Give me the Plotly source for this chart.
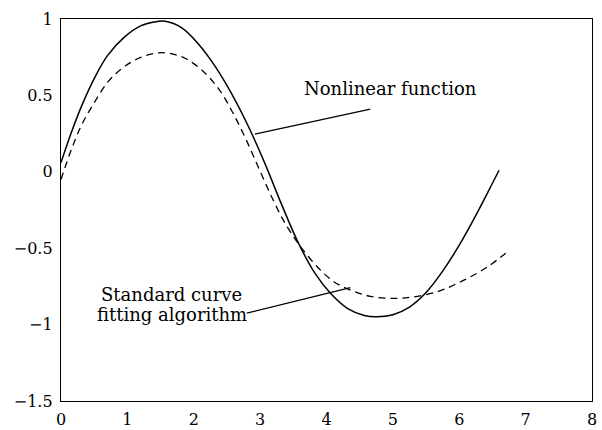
import plotly.graph_objects as go

# Nonlinear function (solid)
x_nonlinear = [0.0, 0.15, 0.3, 0.5, 0.7, 0.95, 1.2, 1.4, 1.57, 1.82, 2.07, 2.32, 2.57, 2.82, 3.07,
               3.32, 3.57, 3.82, 4.07, 4.32, 4.57, 4.75, 5.0, 5.25, 5.5, 5.75, 6.0, 6.25, 6.5, 6.6]
y_nonlinear = [0.06, 0.25, 0.42, 0.61, 0.76, 0.88, 0.955, 0.98, 0.985, 0.942, 0.837, 0.692, 0.512,
               0.30, 0.057, -0.21, -0.46, -0.66, -0.80, -0.895, -0.94, -0.948, -0.935, -0.885,
               -0.79, -0.65, -0.48, -0.285, -0.075, 0.01]

# Standard curve fitting algorithm (dashed)
x_fit = [0.0, 0.16, 0.31, 0.51, 0.71, 0.92, 1.17, 1.42, 1.62, 1.87, 2.12, 2.37, 2.58, 2.78, 2.98,
         3.18, 3.38, 3.61, 3.86, 4.11, 4.36, 4.66, 4.97, 5.27, 5.67, 5.92, 6.17, 6.43, 6.70]
y_fit = [-0.05, 0.15, 0.306, 0.459, 0.59, 0.677, 0.743, 0.776, 0.776, 0.743, 0.666, 0.546,
         0.393, 0.219, 0.023, -0.17, -0.34, -0.49, -0.621, -0.719, -0.774, -0.815, -0.828,
         -0.821, -0.785, -0.741, -0.687, -0.621, -0.533]

x_ticks = [0, 1, 2, 3, 4, 5, 6, 7, 8]
y_ticks = [-1.5, -1, -0.5, 0, 0.5, 1]
y_tick_labels = ["\u22121.5", "\u22121", "\u22120.5", "0", "0.5", "1"]

label_nonlinear = "Nonlinear function"
label_fit_1 = "Standard curve"
label_fit_2 = "fitting algorithm"

FONT = "DejaVu Serif"

fig = go.Figure()
fig.add_trace(go.Scatter(x=x_nonlinear, y=y_nonlinear, mode="lines",
                         line=dict(color="black", width=1.5, shape="spline"),
                         showlegend=False, hoverinfo="skip"))
fig.add_trace(go.Scatter(x=x_fit, y=y_fit, mode="lines",
                         line=dict(color="black", width=1.3, dash="7px,5px", shape="spline"),
                         showlegend=False, hoverinfo="skip"))

# leader lines
fig.add_shape(type="line", x0=2.92, y0=0.247, x1=4.66, y1=0.41,
              line=dict(color="black", width=1.3))
fig.add_shape(type="line", x0=2.80, y0=-0.925, x1=4.36, y1=-0.758,
              line=dict(color="black", width=1.3))

fig.add_annotation(x=4.97, y=0.548, text=label_nonlinear, showarrow=False,
                   font=dict(family=FONT, size=18, color="black"))
fig.add_annotation(x=1.66, y=-0.80, text=label_fit_1, showarrow=False,
                   font=dict(family=FONT, size=18, color="black"))
fig.add_annotation(x=1.67, y=-0.937, text=label_fit_2, showarrow=False,
                   font=dict(family=FONT, size=18, color="black"))

fig.update_layout(
    width=602, height=430,
    margin=dict(l=61, r=10, t=19, b=29),
    paper_bgcolor="white", plot_bgcolor="white",
    font=dict(family=FONT, size=16, color="black"),
)
fig.update_xaxes(range=[0, 8], tickvals=x_ticks, ticks="", showgrid=False, zeroline=False,
                 showline=True, linecolor="black", linewidth=1.3, mirror=True,
                 automargin=False, ticklabelstandoff=4, tickfont=dict(family=FONT, size=16))
fig.update_yaxes(range=[-1.5, 1], tickvals=y_ticks, ticktext=y_tick_labels, ticks="",
                 showgrid=False, zeroline=False, automargin=False, ticklabelstandoff=4,
                 showline=True, linecolor="black", linewidth=1.3, mirror=True,
                 tickfont=dict(family=FONT, size=16))

fig.write_html("out.html")
